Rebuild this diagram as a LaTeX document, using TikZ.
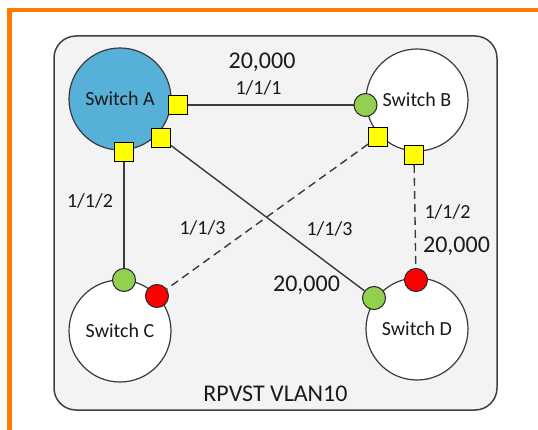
\documentclass[tikz,border=0pt]{standalone}
\usepackage{fontspec}
\setmainfont{Carlito}
\definecolor{framebrown}{HTML}{FF7B00}
\definecolor{bggray}{HTML}{F3F3F3}
\definecolor{rectgray}{HTML}{404040}
\definecolor{linegray}{HTML}{3A3A3A}
\definecolor{switchblue}{HTML}{57B0D8}
\definecolor{portyellow}{HTML}{FFFF00}
\definecolor{portgreen}{HTML}{92D050}
\definecolor{portred}{HTML}{FF0000}
\definecolor{textgray}{HTML}{1A1A1A}
\begin{document}
\begin{tikzpicture}[x=1pt,y=-1pt,
  conn/.style={draw=linegray,line width=1.4pt},
  dashconn/.style={conn,dash pattern=on 8pt off 5pt},
  switchnode/.style={circle,draw=linegray,line width=1.2pt,fill=white,minimum size=102pt,inner sep=0pt,text=textgray,font=\fontsize{20}{24}\selectfont},
  sqport/.style={rectangle,draw=black,line width=1pt,fill=portyellow,minimum size=19pt,inner sep=0pt},
  rdport/.style={circle,draw=black!85,line width=1pt,minimum size=23pt,inner sep=0pt},
  lbl/.style={anchor=base,inner sep=0pt,text=textgray,font=\fontsize{20}{24}\selectfont},
  biglbl/.style={lbl,font=\fontsize{24}{28}\selectfont}]
\useasboundingbox (0,0) rectangle (538,430);
% orange frame
\draw[framebrown,line width=4.5pt] (540,10) -- (9.5,10) -- (9.5,432);
% background box
\draw[draw=rectgray,line width=1.5pt,fill=bggray,rounded corners=22pt] (54,36) rectangle (497,410);
% switches
\node[switchnode,fill=switchblue] (swA) at (120,99) {Switch A};
\node[switchnode] (swB) at (417,100) {Switch B};
\node[switchnode] (swC) at (120,331) {Switch C};
\node[switchnode] (swD) at (417,329) {Switch D};
% ports
\node[sqport] (pa1) at (178,105) {};
\node[sqport] (pa2) at (161,138) {};
\node[sqport] (pa3) at (124,152) {};
\node[rdport,fill=portgreen] (pb1) at (365.5,105) {};
\node[sqport] (pb2) at (378,137) {};
\node[sqport] (pb3) at (414,155) {};
\node[rdport,fill=portgreen] (pc1) at (124,280) {};
\node[rdport,fill=portred] (pc2) at (157,296) {};
\node[rdport,fill=portgreen] (pd1) at (374,298) {};
\node[rdport,fill=portred] (pd2) at (416,280) {};
% connectors
\draw[conn] (pa1) -- (pb1);
\draw[conn] (pa3) -- (pc1);
\draw[conn] (pa2) -- (pd1);
\draw[dashconn] (pb2) -- (pc2);
\draw[dashconn] (pb3) -- (pd2);
% labels
\node[biglbl] (cAB) at (262,69) {20,000};
\node[lbl] (iAB) at (258.5,94.5) {1/1/1};
\node[lbl] (iAC) at (90,208) {1/1/2};
\node[lbl] (iBC) at (202.5,235) {1/1/3};
\node[lbl] (iAD) at (329.5,236) {1/1/3};
\node[lbl] (iBD) at (447.5,219) {1/1/2};
\node[biglbl] (cBD) at (456.5,253) {20,000};
\node[biglbl] (cAD) at (306.5,292) {20,000};
\node[biglbl] (title) at (275.5,401.5) {RPVST VLAN10};
\end{tikzpicture}
\end{document}
